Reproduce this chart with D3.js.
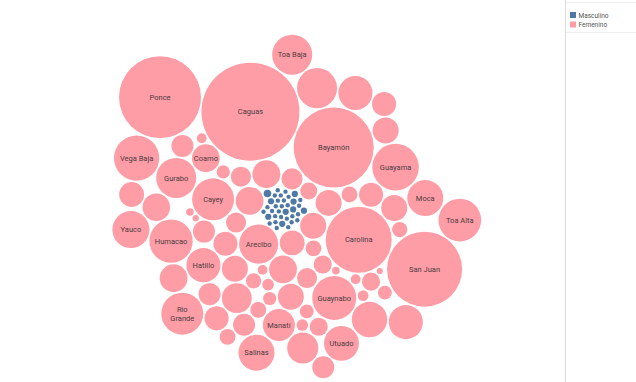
<!DOCTYPE html>
<html>
<head>
<meta charset="utf-8">
<script src="https://cdn.jsdelivr.net/npm/d3@7"></script>
<style>
  body { margin: 0; background: #fff; }
  svg { display: block; font-family: Roboto, "Noto Sans", sans-serif; }
</style>
</head>
<body>
<svg id="chart"></svg>
<script>
// municipios en orden alfabetico (orden del empaque)
const municipios = [
  "Adjuntas", "Aguada", "Aguadilla", "Aguas Buenas", "Aibonito", "Añasco", "Arecibo", "Arroyo", "Barceloneta", "Barranquitas",
  "Bayamón", "Cabo Rojo", "Caguas", "Camuy", "Canóvanas", "Carolina", "Cataño", "Cayey", "Ceiba", "Ciales",
  "Cidra", "Coamo", "Comerío", "Corozal", "Culebra", "Dorado", "Fajardo", "Florida", "Guánica", "Guayama",
  "Guayanilla", "Guaynabo", "Gurabo", "Hatillo", "Hormigueros", "Humacao", "Isabela", "Jayuya", "Juana Díaz", "Juncos",
  "Lajas", "Lares", "Las Marías", "Las Piedras", "Loíza", "Luquillo", "Manatí", "Maricao", "Maunabo", "Mayagüez",
  "Moca", "Morovis", "Naguabo", "Naranjito", "Orocovis", "Patillas", "Peñuelas", "Ponce", "Quebradillas", "Rincón",
  "Rio Grande", "Sabana Grande", "Salinas", "San Germán", "San Juan", "San Lorenzo", "San Sebastián", "Santa Isabel", "Toa Alta", "Toa Baja",
  "Trujillo Alto", "Utuado", "Vega Alta", "Vega Baja", "Vieques", "Villalba", "Yabucoa", "Yauco"
];

const femenino = [
  23, 15, 40, 35, 32, 40, 79, 35, 21, 21,
  331, 13, 496, 40, 13, 225, 17, 91, 21, 30,
  9, 40, 5, 30, 25, 35, 12, 7, 35, 112,
  3, 100, 83, 60, 9, 97, 46, 13, 2, 10,
  83, 5, 35, 25, 3, 39, 53, 5, 17, 7,
  67, 6, 25, 12, 35, 25, 17, 347, 40, 2,
  91, 30, 67, 60, 291, 10, 13, 65, 94, 83,
  60, 63, 30, 106, 50, 25, 32, 71
];

const masculino = [
  0, 1, 0, 2, 1, 0, 0, 1, 0, 2,
  1, 1, 0, 1, 1, 0, 0, 0, 1, 0,
  1, 0, 0, 0, 1, 0, 0, 2, 1, 0,
  0, 1, 0, 0, 0, 2, 0, 0, 1, 0,
  1, 0, 2, 0, 0, 0, 1, 1, 0, 1,
  0, 0, 0, 0, 0, 0, 1, 0, 1, 2,
  0, 1, 2, 0, 1, 0, 3, 0, 2, 0,
  1, 1, 0, 1, 0, 1, 1, 1
];

const sexos = ["Masculino", "Femenino"];

// etiquetas visibles en el grafico
const etiquetas = ["Ponce", "Caguas", "Coamo", "Yauco", "Hatillo", "Bayamón", "Manatí", "Toa Alta",
  "Guaynabo", "San Juan", "Gurabo", "Utuado", "Cayey", "Arecibo", "Humacao", "Guayama",
  "Carolina", "Toa Baja", "Salinas", "Rio Grande", "Moca", "Vega Baja"];

let width = 636;
let height = 382;

let svg = d3.select("#chart")
    .attr("width", width)
    .attr("height", height);

let color = d3.scaleOrdinal()
    .domain(sexos)
    .range(["#4e79a7", "#ff9da7"]);

let maxV = d3.max(femenino);
let rScale = d3.scaleSqrt()
    .domain([0, maxV])
    .range([0, 2.2 * Math.sqrt(maxV)]);

let gap = 0.8;

let nodes = [];
municipios.forEach((m, i) => {
    if (masculino[i] > 0)
        nodes.push({ name: m, sexo: "Masculino", v: masculino[i] });
});
municipios.forEach((m, i) => {
    nodes.push({ name: m, sexo: "Femenino", v: femenino[i] });
});

nodes.forEach(d => d.r = rScale(d.v) + gap);
d3.packSiblings(nodes);

// orientacion del empaque (espejo + giro)
let giro = -125 * Math.PI / 180;
let cs = Math.cos(giro), sn = Math.sin(giro);
nodes.forEach(d => {
    let x = -d.x, y = d.y;
    d.x = x * cs - y * sn;
    d.y = x * sn + y * cs;
});

let x0 = d3.min(nodes, d => d.x - d.r);
let x1 = d3.max(nodes, d => d.x + d.r);
let y0 = d3.min(nodes, d => d.y - d.r);
let y1 = d3.max(nodes, d => d.y + d.r);

let s = Math.min(1, 378 / (y1 - y0), 540 / (x1 - x0));

// el grupo azul queda cerca del centro del area de dibujo
let hombres = nodes.filter(d => d.sexo == "Masculino");
let mx = d3.mean(hombres, d => d.x), my = d3.mean(hombres, d => d.y);
let tx = 283 - s * mx, ty = 209 - s * my;
tx = Math.max(2 - s * x0, Math.min(563 - s * x1, tx));
ty = Math.max(2 - s * y0, Math.min(380 - s * y1, ty));

let g = svg.append("g")
    .attr("transform", "translate(" + tx + "," + ty + ") scale(" + s + ")");

g.selectAll("circle")
    .data(nodes)
    .join("circle")
    .attr("cx", d => d.x)
    .attr("cy", d => d.y)
    .attr("r", d => d.r - gap)
    .attr("fill", d => color(d.sexo));

let labels = g.selectAll("text.lbl")
    .data(nodes.filter(d => d.sexo == "Femenino" && etiquetas.includes(d.name)))
    .join("text")
    .attr("class", "lbl")
    .attr("x", d => d.x)
    .attr("y", d => d.y)
    .attr("text-anchor", "middle")
    .attr("font-size", 7.5 / s)
    .attr("fill", "#4a3b40")
    .text(d => d.name);

// partir en dos lineas si no cabe
labels.each(function(d) {
    let t = d3.select(this);
    let w = this.getComputedTextLength();
    let parts = d.name.split(" ");
    if (w > 1.6 * (d.r - gap) && parts.length > 1) {
        t.text(null);
        t.append("tspan").attr("x", d.x).attr("dy", "-0.25em").text(parts[0]);
        t.append("tspan").attr("x", d.x).attr("dy", "1.25em").text(parts.slice(1).join(" "));
    } else {
        t.attr("dy", "0.35em");
    }
});

// panel de leyenda
svg.append("line")
    .attr("x1", 565.5).attr("x2", 565.5)
    .attr("y1", 0).attr("y2", height)
    .attr("stroke", "#dcdcdc");
svg.append("line")
    .attr("x1", 566).attr("x2", width)
    .attr("y1", 2.5).attr("y2", 2.5)
    .attr("stroke", "#eeeeee");
svg.append("line")
    .attr("x1", 566).attr("x2", width)
    .attr("y1", 32.5).attr("y2", 32.5)
    .attr("stroke", "#f0f0f0");

let legend = svg.selectAll("g.leg")
    .data(sexos)
    .join("g")
    .attr("class", "leg")
    .attr("transform", (d, i) => "translate(570," + (12 + i * 9.5) + ")");

legend.append("rect")
    .attr("width", 6)
    .attr("height", 6)
    .attr("fill", d => color(d));

legend.append("text")
    .attr("x", 8.5)
    .attr("y", 5.5)
    .attr("font-size", 6.5)
    .attr("fill", "#555")
    .text(d => d);
</script>
</body>
</html>
